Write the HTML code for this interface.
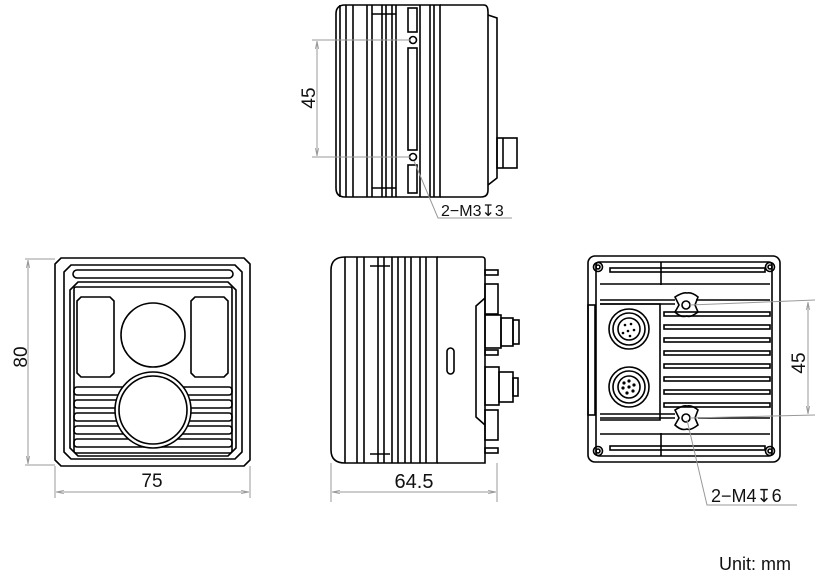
<!DOCTYPE html>
<html><head><meta charset="utf-8"><style>
html,body{margin:0;padding:0;background:#fff;width:822px;height:585px;overflow:hidden}
svg{display:block}
text{font-family:"Liberation Sans",sans-serif;fill:#111}
</style></head><body>
<svg width="822" height="585" viewBox="0 0 822 585" xmlns="http://www.w3.org/2000/svg">
<defs>
<marker id="ar" viewBox="0 0 10 10" refX="10" refY="5" markerWidth="8" markerHeight="8" orient="auto-start-reverse"><path d="M0,3 L10,5 L0,7" fill="none" stroke="#999" stroke-width="1"/></marker>
</defs>
<g fill="none" stroke="#000" stroke-width="1.6">
<!-- FRONT VIEW -->
<path d="M61,258 H244 L250,264 V460 L244,466 H61 L55,460 V264 Z"/>
<path d="M71,265 H235 L242,272 V452 L235,459 H71 L64,452 V272 Z"/>
<rect x="73" y="270" width="160" height="8" rx="4"/>
<path d="M78,282 H228 L236,290 V448 L228,456 H78 L70,448 V290 Z"/>
<rect x="74" y="287" width="158" height="166" rx="2"/>
<path d="M81,297 H110 L114,301 V373 L110,377 H81 L77,373 V301 Z"/>
<path d="M195,297 H224 L228,301 V373 L224,377 H195 L191,373 V301 Z"/>
<circle cx="153" cy="335" r="32"/>
<rect x="74" y="387" width="158" height="8" rx="3"/>
<rect x="74" y="400" width="158" height="8" rx="3"/>
<rect x="74" y="413" width="158" height="8" rx="3"/>
<rect x="74" y="426" width="158" height="8" rx="3"/>
<rect x="74" y="439" width="158" height="8" rx="3"/>
<circle cx="153" cy="410" r="38" fill="#fff"/>
<circle cx="153" cy="410" r="34"/>

<!-- TOP SIDE VIEW -->
<path d="M345,5 H440 V197 H345 Q336,197 336,188 V14 Q336,5 345,5 Z"/>
<path d="M440,5 H484 Q488,5 488,12 V190 Q488,197 481,197 H440"/>
<path d="M488,15 L497,18 V178 L488,185"/>
<rect x="497" y="138" width="20" height="30"/>
<line x1="503" y1="138" x2="503" y2="168"/>
<line x1="340" y1="5" x2="340" y2="197"/>
<line x1="346" y1="5" x2="346" y2="197"/>
<line x1="353" y1="5" x2="353" y2="197"/>
<line x1="367" y1="5" x2="367" y2="197"/>
<line x1="372" y1="5" x2="372" y2="197"/>
<line x1="382" y1="5" x2="382" y2="197"/>
<line x1="386" y1="5" x2="386" y2="197"/>
<line x1="392" y1="5" x2="392" y2="197"/>
<line x1="396" y1="5" x2="396" y2="197"/>
<line x1="420" y1="5" x2="420" y2="197"/>
<line x1="430" y1="5" x2="430" y2="197"/>
<line x1="434" y1="5" x2="434" y2="197"/>
<line x1="372" y1="14" x2="396" y2="14"/>
<line x1="372" y1="188" x2="396" y2="188"/>
<rect x="408" y="8" width="9" height="24"/>
<circle cx="413" cy="40" r="3.5"/>
<rect x="408" y="48" width="9" height="102"/>
<circle cx="413" cy="157" r="3.5"/>
<rect x="408" y="165" width="9" height="28"/>

<!-- MIDDLE SIDE VIEW -->
<path d="M345,257 H437 V463 H345 Q331,463 331,450 V270 Q331,257 345,257 Z"/>
<path d="M437,257 H482 Q485,257 485,260 V463 H437"/>
<line x1="345" y1="257" x2="345" y2="463"/>
<line x1="357" y1="257" x2="357" y2="463"/>
<line x1="364" y1="257" x2="364" y2="463"/>
<line x1="378" y1="257" x2="378" y2="463"/>
<line x1="384" y1="257" x2="384" y2="463"/>
<line x1="392" y1="257" x2="392" y2="463"/>
<line x1="398" y1="257" x2="398" y2="463"/>
<line x1="405" y1="257" x2="405" y2="463"/>
<line x1="411" y1="257" x2="411" y2="463"/>
<line x1="420" y1="257" x2="420" y2="463"/>
<line x1="426" y1="257" x2="426" y2="463"/>
<line x1="370" y1="266" x2="390" y2="266"/>
<line x1="370" y1="454" x2="390" y2="454"/>
<rect x="447" y="348" width="7" height="26" rx="3.5"/>
<path d="M485,298 L476,306 V417 L485,425"/>
<rect x="485" y="270" width="13" height="5"/>
<rect x="485" y="284" width="13" height="30"/>
<rect x="485" y="315" width="16" height="33"/>
<rect x="501" y="318" width="12" height="28"/>
<rect x="513" y="320" width="6" height="24"/>
<rect x="485" y="350" width="13" height="5"/>
<rect x="485" y="367" width="14" height="38"/>
<rect x="499" y="372" width="14" height="30"/>
<rect x="513" y="378" width="5" height="18"/>
<rect x="485" y="410" width="13" height="30"/>
<rect x="485" y="448" width="13" height="5"/>

<!-- BACK VIEW -->
<rect x="588" y="256" width="192" height="206" rx="7"/>
<rect x="596" y="262" width="176" height="194" rx="3"/>
<circle cx="598" cy="267" r="4.5"/><circle cx="598" cy="267" r="2"/>
<circle cx="770" cy="267" r="4.5"/><circle cx="770" cy="267" r="2"/>
<circle cx="598" cy="451" r="4.5"/><circle cx="598" cy="451" r="2"/>
<circle cx="770" cy="451" r="4.5"/><circle cx="770" cy="451" r="2"/>
<line x1="661" y1="262" x2="661" y2="285"/>
<line x1="661" y1="433" x2="661" y2="456"/>
<rect x="610" y="268" width="155" height="4"/>
<rect x="610" y="446" width="155" height="4"/>
<line x1="600" y1="284" x2="770" y2="284"/>
<line x1="600" y1="300" x2="675" y2="300"/><line x1="696" y1="300" x2="770" y2="300"/>
<line x1="600" y1="304" x2="675" y2="304"/>
<path d="M600,304 H660 V420 H600"/>
<path d="M675,297 Q683,292 687,293 Q692,292 698,297 L695,305 L698,312 Q690,318 687,316 Q681,318 675,312 L679,305 Z"/>
<circle cx="686" cy="305" r="4"/>
<path d="M675,410 Q683,405 687,406 Q692,405 698,410 L695,418 L698,425 Q690,431 687,429 Q681,431 675,425 L679,418 Z"/>
<circle cx="686" cy="418" r="4"/>
<rect x="664" y="312" width="106" height="4"/>
<rect x="664" y="325" width="106" height="4"/>
<rect x="664" y="338" width="106" height="4"/>
<rect x="664" y="351" width="106" height="4"/>
<rect x="664" y="364" width="106" height="4"/>
<rect x="664" y="377" width="106" height="4"/>
<rect x="664" y="390" width="106" height="4"/>
<rect x="664" y="403" width="106" height="4"/>
<line x1="600" y1="414" x2="675" y2="414"/><line x1="600" y1="418" x2="675" y2="418"/>
<line x1="698" y1="418" x2="770" y2="418"/>
<line x1="600" y1="434" x2="770" y2="434"/>
<rect x="588" y="305" width="7" height="110"/>
<circle cx="629" cy="329" r="20"/><circle cx="629" cy="329" r="16"/><circle cx="629" cy="329" r="11"/>
<circle cx="629" cy="387" r="20"/><circle cx="629" cy="387" r="16"/><circle cx="629" cy="387" r="11"/>
</g>
<g fill="#000">
<circle cx="625" cy="325" r="1.3"/><circle cx="631" cy="324" r="1.3"/><circle cx="634" cy="330" r="1.3"/><circle cx="628" cy="331" r="1.3"/><circle cx="623" cy="333" r="1.3"/><circle cx="630" cy="336" r="1.3"/>
<circle cx="629" cy="381" r="1.6"/><circle cx="634" cy="385" r="1.6"/><circle cx="633" cy="391" r="1.6"/><circle cx="627" cy="393" r="1.6"/><circle cx="623" cy="388" r="1.6"/><circle cx="624" cy="383" r="1.6"/><circle cx="629" cy="387" r="1.6"/>
</g>
<!-- dimensions -->
<g fill="none" stroke="#999" stroke-width="1">
<line x1="25" y1="259" x2="55" y2="259"/><line x1="25" y1="465" x2="55" y2="465"/>
<line x1="28" y1="260" x2="28" y2="464" marker-start="url(#ar)" marker-end="url(#ar)"/>
<line x1="55" y1="466" x2="55" y2="498"/><line x1="250" y1="466" x2="250" y2="498"/>
<line x1="56" y1="492" x2="249" y2="492" marker-start="url(#ar)" marker-end="url(#ar)"/>
<line x1="331" y1="463" x2="331" y2="502"/><line x1="497" y1="463" x2="497" y2="502"/>
<line x1="332" y1="492" x2="496" y2="492" marker-start="url(#ar)" marker-end="url(#ar)"/>
<line x1="312" y1="40" x2="410" y2="40"/><line x1="312" y1="157" x2="410" y2="157"/>
<line x1="317" y1="41" x2="317" y2="156" marker-start="url(#ar)" marker-end="url(#ar)"/>
<polyline points="414,161 438,218 512,218"/>
<line x1="690" y1="305" x2="815" y2="300"/><line x1="690" y1="418" x2="815" y2="415"/>
<line x1="808" y1="302" x2="808" y2="414" marker-start="url(#ar)" marker-end="url(#ar)"/>
<polyline points="687,420 707,505 797,505"/>
</g>
<text x="152" y="487" font-size="19" text-anchor="middle">75</text>
<text x="414" y="488" font-size="20" text-anchor="middle">64.5</text>
<text transform="translate(27,357) rotate(-90)" font-size="19" text-anchor="middle">80</text>
<text transform="translate(315,98) rotate(-90)" font-size="19" text-anchor="middle">45</text>
<text transform="translate(805,363) rotate(-90)" font-size="19" text-anchor="middle">45</text>
<text x="441" y="216" font-size="16">2−M3↧3</text>
<text x="711" y="502" font-size="18">2−M4↧6</text>
<text x="719" y="570" font-size="18">Unit: mm</text>
</svg>
</body></html>
